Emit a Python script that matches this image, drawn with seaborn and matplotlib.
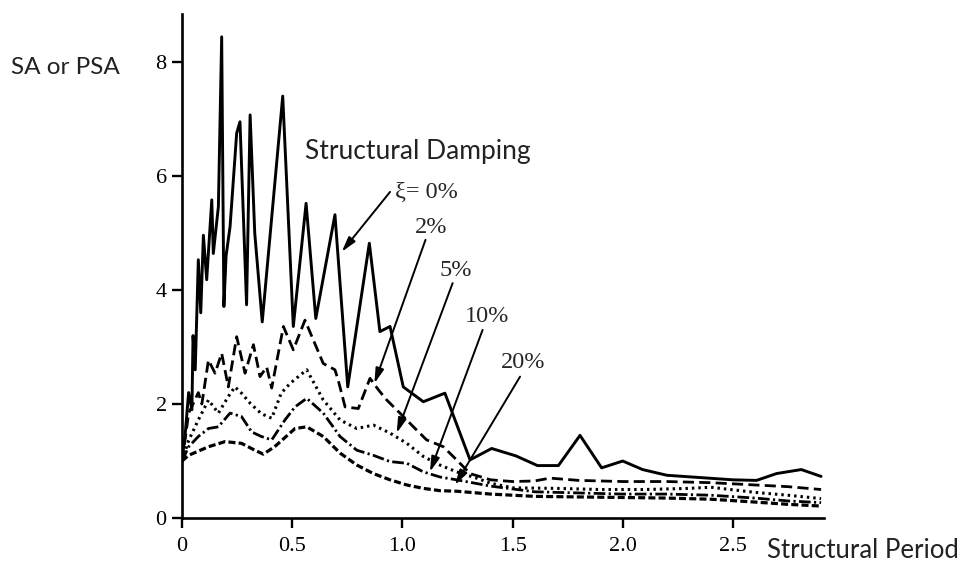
import matplotlib
matplotlib.use("Agg")
import matplotlib.pyplot as plt
import seaborn as sns
import pandas as pd

# ---------------- data ----------------
t_0 = [0.0, 0.015, 0.03, 0.045, 0.05, 0.06, 0.074, 0.085, 0.097, 0.112, 0.135, 0.142,
       0.165, 0.18, 0.19, 0.2, 0.218, 0.248, 0.263, 0.293, 0.309, 0.33, 0.364, 0.457,
       0.505, 0.563, 0.607, 0.694, 0.752, 0.85, 0.898, 0.944, 1.004, 1.095, 1.193,
       1.307, 1.405, 1.515, 1.613, 1.708, 1.806, 1.904, 2.0, 2.09, 2.2, 2.35, 2.5,
       2.607, 2.698, 2.81, 2.9]
sa_0 = [1.0, 1.5, 2.2, 1.9, 3.2, 2.6, 4.53, 3.6, 4.96, 4.18, 5.58, 4.64,
        5.46, 8.44, 3.71, 4.6, 5.11, 6.75, 6.95, 3.74, 7.07, 5.0, 3.44, 7.40,
        3.36, 5.52, 3.5, 5.32, 2.30, 4.82, 3.27, 3.36, 2.30, 2.04, 2.19,
        1.02, 1.22, 1.09, 0.92, 0.92, 1.45, 0.88, 1.0, 0.85, 0.75, 0.71, 0.67,
        0.66, 0.78, 0.85, 0.73]

t_2 = [0.0, 0.015, 0.03, 0.05, 0.074, 0.09, 0.12, 0.15, 0.18, 0.21, 0.248, 0.286,
       0.324, 0.354, 0.384, 0.407, 0.46, 0.505, 0.558, 0.641, 0.694, 0.71, 0.74,
       0.8, 0.853, 0.891, 0.929, 0.989, 1.05, 1.11, 1.186, 1.246, 1.307, 1.4, 1.5,
       1.6, 1.67, 1.8, 2.0, 2.2, 2.4, 2.6, 2.75, 2.9]
sa_2 = [1.0, 1.4, 1.84, 2.0, 2.2, 2.0, 2.77, 2.54, 2.89, 2.3, 3.18, 2.54,
        3.04, 2.48, 2.65, 2.28, 3.36, 2.95, 3.47, 2.71, 2.6, 2.4, 1.95,
        1.92, 2.45, 2.25, 2.07, 1.84, 1.6, 1.37, 1.25, 1.02, 0.78, 0.67, 0.64,
        0.65, 0.70, 0.66, 0.64, 0.64, 0.62, 0.58, 0.55, 0.50]

t_5 = [0.0, 0.03, 0.074, 0.12, 0.165, 0.21, 0.24, 0.27, 0.31, 0.36, 0.407, 0.45,
       0.49, 0.566, 0.641, 0.717, 0.793, 0.868, 0.944, 1.02, 1.095, 1.17, 1.246,
       1.337, 1.4, 1.5, 1.7, 1.9, 2.1, 2.3, 2.4, 2.6, 2.75, 2.9]
sa_5 = [1.0, 1.36, 1.72, 2.07, 1.84, 2.13, 2.3, 2.19, 2.01, 1.83, 1.75, 2.19,
        2.36, 2.6, 2.07, 1.72, 1.57, 1.63, 1.49, 1.31, 1.08, 0.93, 0.81,
        0.70, 0.61, 0.53, 0.52, 0.50, 0.50, 0.52, 0.54, 0.45, 0.40, 0.34]

t_10 = [0.0, 0.03, 0.074, 0.12, 0.165, 0.218, 0.27, 0.316, 0.36, 0.407, 0.467,
        0.513, 0.566, 0.641, 0.717, 0.793, 0.868, 0.944, 1.02, 1.095, 1.17, 1.246,
        1.4, 1.6, 1.8, 2.0, 2.2, 2.4, 2.6, 2.75, 2.9]
sa_10 = [1.0, 1.25, 1.43, 1.57, 1.6, 1.84, 1.78, 1.51, 1.43, 1.37, 1.72,
         1.95, 2.1, 1.84, 1.43, 1.19, 1.1, 0.99, 0.96, 0.81, 0.72, 0.67,
         0.56, 0.46, 0.44, 0.42, 0.42, 0.40, 0.35, 0.30, 0.27]

t_20 = [0.0, 0.03, 0.12, 0.195, 0.27, 0.33, 0.369, 0.42, 0.513, 0.566, 0.641,
        0.717, 0.793, 0.868, 0.944, 1.02, 1.095, 1.17, 1.246, 1.4, 1.6, 1.8, 2.0,
        2.2, 2.4, 2.6, 2.75, 2.9]
sa_20 = [1.0, 1.1, 1.25, 1.34, 1.31, 1.19, 1.12, 1.25, 1.57, 1.6, 1.43,
         1.14, 0.93, 0.78, 0.67, 0.58, 0.52, 0.48, 0.47, 0.42, 0.38, 0.37, 0.36,
         0.35, 0.33, 0.28, 0.24, 0.21]

x_ticks = [0, 0.5, 1.0, 1.5, 2.0, 2.5]
x_tick_labels = ["0", "0.5", "1.0", "1.5", "2.0", "2.5"]
y_ticks = [0, 2, 4, 6, 8]
y_tick_labels = ["0", "2", "4", "6", "8"]

damping_labels = ["ξ= 0%", "2%", "5%", "10%", "20%"]
label_xy = [(0.966, 5.72), (1.13, 5.10), (1.241, 4.35), (1.382, 3.53), (1.549, 2.72)]
arrow_from = [(0.944, 5.72), (1.105, 4.88), (1.228, 4.12), (1.364, 3.30), (1.534, 2.48)]
arrow_to = [(0.725, 4.67), (0.873, 2.36), (0.974, 1.49), (1.125, 0.81), (1.239, 0.58)]

# ---------------- style ----------------
sns.set_style("ticks")
plt.rcParams["font.family"] = ["Liberation Serif", "DejaVu Serif"]
sans = ["Lato", "DejaVu Sans"]

fig = plt.figure(figsize=(9.61, 5.61), dpi=100)
ax = fig.add_axes([0.1894, 0.0766, 0.668, 0.8984])

series = [
    (t_0, sa_0, "-", 2.1),
    (t_2, sa_2, (0, (4.0, 1.9)), 2.0),
    (t_5, sa_5, (0, (0.8, 1.3)), 2.2),
    (t_10, sa_10, (0, (4.2, 1.2, 0.8, 1.2)), 2.0),
    (t_20, sa_20, (0, (2.2, 1.0)), 2.3),
]
for tx, sy, ls, lw in series:
    df = pd.DataFrame({"period": tx, "sa": sy})
    sns.lineplot(data=df, x="period", y="sa", ax=ax, color="black",
                 linestyle=ls, linewidth=lw, estimator=None, sort=False)

ax.set_xlim(0, 2.913)
ax.set_ylim(0, 8.84)
ax.set_xticks(x_ticks)
ax.set_xticklabels(x_tick_labels)
ax.set_yticks(y_ticks)
ax.set_yticklabels(y_tick_labels)
ax.tick_params(axis="both", direction="out", length=7, width=1.7,
               labelsize=16, colors="black")
ax.tick_params(axis="x", pad=7)
ax.tick_params(axis="y", pad=4)
for side in ["top", "right"]:
    ax.spines[side].set_visible(False)
for side in ["left", "bottom"]:
    ax.spines[side].set_linewidth(1.9)
    ax.spines[side].set_color("black")

ax.set_xlabel("Structural Period", fontsize=18.5, family=sans, color="#222222")
ax.xaxis.set_label_coords(1.061, -0.0635)
ax.xaxis.label.set_va("center")
ax.set_ylabel("SA or PSA", fontsize=17.5, family=sans, rotation=0, color="#222222")
ax.yaxis.set_label_coords(-0.182, 0.893)
ax.yaxis.label.set_va("center")
ax.yaxis.label.set_ha("center")

ax.text(0.558, 6.42, "Structural Damping", fontsize=19, family=sans,
        ha="left", va="center", color="#222222")

for i, lab in enumerate(damping_labels):
    ha = "left" if i == 0 else "center"
    ax.text(label_xy[i][0], label_xy[i][1], lab, fontsize=17.5, ha=ha, va="center")
    ax.annotate("", xy=arrow_to[i], xytext=arrow_from[i],
                arrowprops=dict(arrowstyle="-|>,head_length=0.9,head_width=0.25",
                                color="black", lw=1.4, shrinkA=0, shrinkB=0))

fig.savefig("out.png", dpi=100)
